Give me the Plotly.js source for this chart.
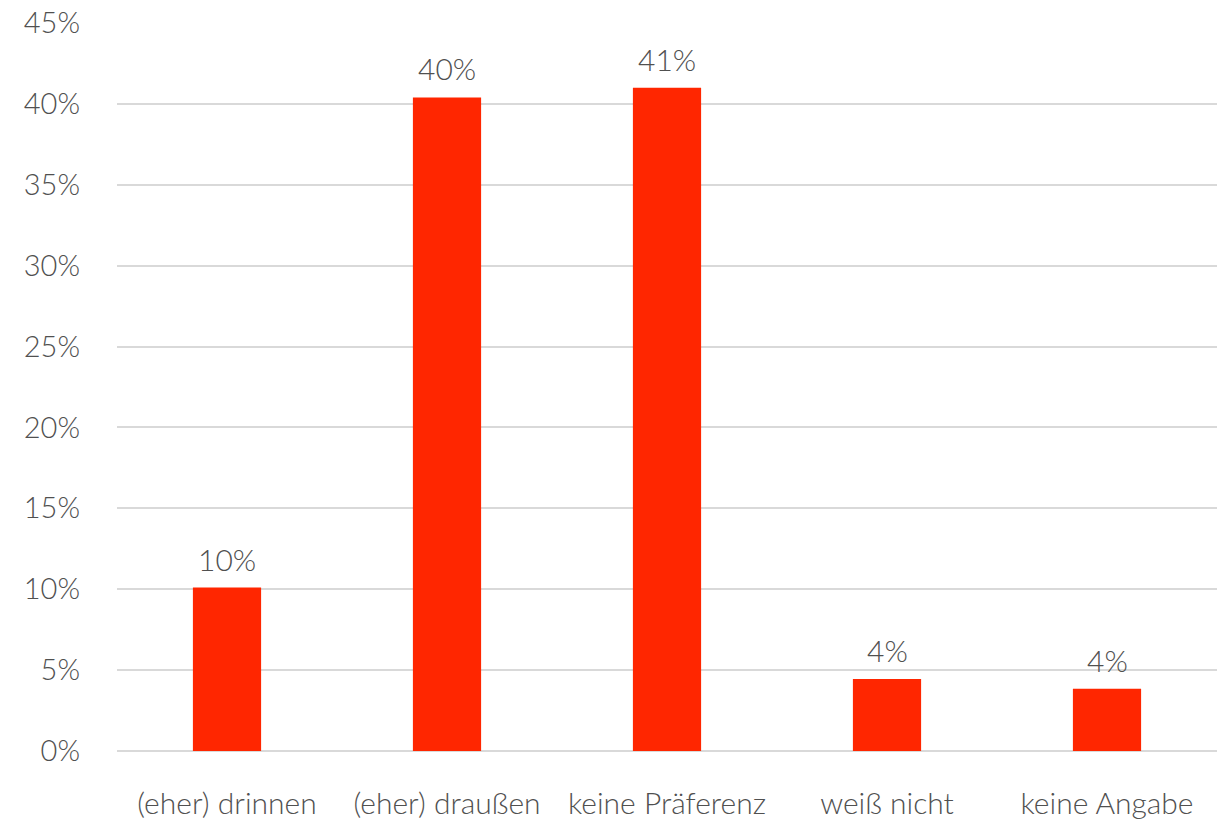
<!DOCTYPE html>
<html>
<head>
<meta charset="utf-8">
<script src="https://cdn.plot.ly/plotly-3.0.1.min.js"></script>
<style>html,body{margin:0;padding:0;background:#fff;}#chart{width:1230px;height:819px;}</style>
</head>
<body>
<div id="chart"></div>
<script>
const categories = ["(eher) drinnen", "(eher) draußen", "keine Präferenz", "weiß nicht", "keine Angabe"];
const values = [10.1, 40.4, 41.0, 4.45, 3.85];
const yTicks = [0, 5, 10, 15, 20, 25, 30, 35, 40, 45];

const baseFont = {family: "Lato, 'Open Sans', sans-serif", color: "#505050", weight: 300};
const yFont = Object.assign({}, baseFont, {size: 29});
const xFont = Object.assign({}, baseFont, {size: 30});
const labelFont = Object.assign({}, baseFont, {size: 30});

const trace = {
  type: "bar",
  x: categories,
  y: values,
  marker: {color: "#ff2600"},
  hoverinfo: "skip"
};

const annotations = categories.map((c, i) => ({
  x: c, y: values[i], xref: "x", yref: "y",
  text: Math.round(values[i]) + "%",
  showarrow: false, yanchor: "bottom", yshift: 9,
  font: labelFont
}));

const layout = {
  width: 1230, height: 819,
  margin: {l: 117, r: 13, t: 23, b: 68},
  paper_bgcolor: "#fff", plot_bgcolor: "#fff",
  bargap: 0.69,
  showlegend: false,
  font: baseFont,
  xaxis: {
    type: "category",
    showgrid: false, zeroline: false, showline: false,
    ticks: "", ticklabelstandoff: 32,
    tickfont: xFont
  },
  yaxis: {
    range: [0, 45],
    tickvals: yTicks,
    ticktext: yTicks.map(v => v + "%"),
    showgrid: true, gridcolor: "#d9d9d9", gridwidth: 2,
    zeroline: true, zerolinecolor: "#d9d9d9", zerolinewidth: 2,
    showline: false, ticks: "", ticklabelstandoff: 36,
    tickfont: yFont
  },
  annotations: annotations
};

Plotly.newPlot("chart", [trace], layout, {displayModeBar: false, staticPlot: true});
</script>
</body>
</html>
